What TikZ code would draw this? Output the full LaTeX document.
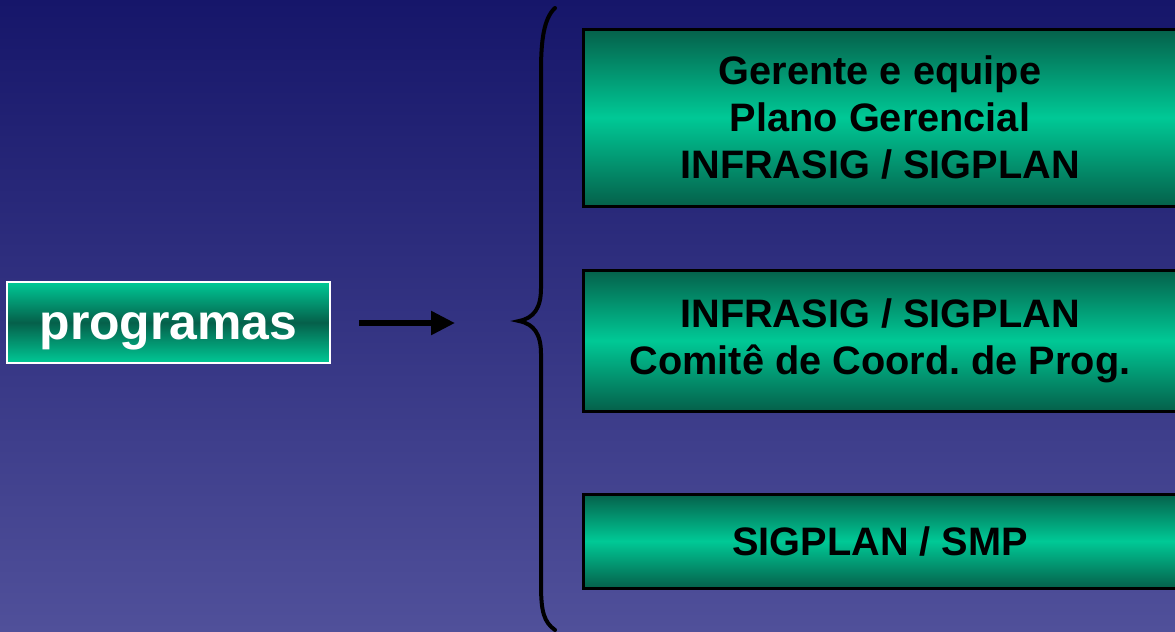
\documentclass[tikz,border=0pt]{standalone}
\usepackage{fontspec}
\setmainfont{Liberation Sans}
\usetikzlibrary{arrows.meta,positioning}
\definecolor{bgtop}{HTML}{16166A}
\definecolor{bgbot}{HTML}{50509A}
\definecolor{gdark}{HTML}{05604A}
\definecolor{glight}{HTML}{00C996}
\tikzset{
  card/.style={draw=black,line width=.3mm,top color=gdark,bottom color=gdark,middle color=glight,minimum width=59.4mm,inner sep=0pt,align=center,font=\fontsize{11.3}{13.4}\selectfont\bfseries,text=black},
  lead/.style={draw=white,line width=.2mm,top color=glight,bottom color=glight,middle color=gdark,minimum width=32.3mm,minimum height=8.1mm,inner sep=0pt,text height=14.7pt,text depth=5.1pt,font=\fontsize{14.2}{17}\selectfont\bfseries,text=white},
  ar/.style={-{Triangle[length=2.4mm,width=2.3mm]},draw=black,line width=.55mm},
  brc/.style={draw=black,line width=.4mm,line cap=round},
}

\begin{document}
\begin{tikzpicture}[x=.1mm,y=-.1mm]
\useasboundingbox (0,0) rectangle (1175,631);
\clip (0,0) rectangle (1175,631);
\shade[top color=bgtop,bottom color=bgbot] (0,0) rectangle (1175,631);
% left box and arrow
\node[lead] (prog) at (168.5,322.5) {programas};
\coordinate (arS) at (359,323);
\coordinate (arE) at (455,323);
\draw[ar] (arS) -- (arE);
% brace
\coordinate (tip) at (519,321);
\draw[brc] (555,8) .. controls (544,18) and (541,40) .. (541,70) -- (541,288)
  .. controls (541,308) and (534,318) .. (tip)
  .. controls (534,324) and (541,334) .. (541,354) -- (541,585)
  .. controls (541,612) and (544,622) .. (555,630);
% right boxes
\node[card,minimum height=17.7mm] (c1) at (880,117.5) {Gerente e equipe\\Plano Gerencial\\INFRASIG / SIGPLAN};
\node[card,minimum height=14.1mm,below=6.1mm of c1] (c2) {INFRASIG / SIGPLAN\\Comitê de Coord.\ de Prog.};
\node[card,minimum height=9.4mm,below=8mm of c2] (c3) {SIGPLAN / SMP};
\end{tikzpicture}
\end{document}
